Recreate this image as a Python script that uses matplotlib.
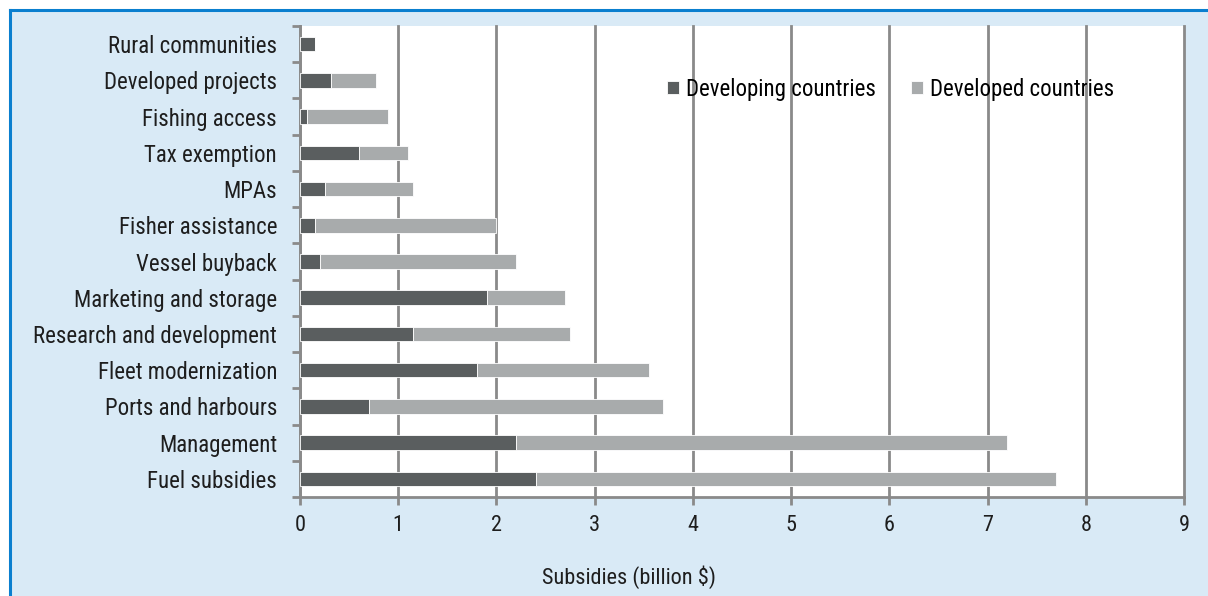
import matplotlib.pyplot as plt
from matplotlib.patches import Rectangle
from matplotlib.lines import Line2D

categories = ["Fuel subsidies", "Management", "Ports and harbours", "Fleet modernization",
              "Research and development", "Marketing and storage", "Vessel buyback",
              "Fisher assistance", "MPAs", "Tax exemption", "Fishing access",
              "Developed projects", "Rural communities"]
developing = [2.4, 2.2, 0.7, 1.8, 1.15, 1.9, 0.2, 0.15, 0.25, 0.6, 0.07, 0.32, 0.15]
totals = [7.7, 7.2, 3.7, 3.55, 2.75, 2.7, 2.2, 2.0, 1.15, 1.1, 0.9, 0.77, 0.15]
developed = [t - d for t, d in zip(totals, developing)]
xticks = list(range(0, 10))

DARK = "#5a5e5f"
LIGHT = "#a8abac"
BG = "#d9eaf6"
GRID = "#8a8a8a"
TEXT = "#1e1e1e"
FONT = ["Roboto Condensed", "Liberation Sans Narrow", "Liberation Sans", "DejaVu Sans"]
plt.rcParams["font.family"] = FONT

W, H = 1208, 596
fig = plt.figure(figsize=(W / 100, H / 100), dpi=100)
fig.patch.set_facecolor("white")

# light blue panel with a blue frame on top and left
fig.patches.append(Rectangle((10 / W, 0), 1, 1 - 10 / H, transform=fig.transFigure,
                             facecolor=BG, edgecolor="none", zorder=-10))
fig.lines.append(Line2D([10 / W, 1], [1 - 10 / H, 1 - 10 / H], transform=fig.transFigure,
                        color="#0a7fcf", lw=2.2, zorder=-5))
fig.lines.append(Line2D([10 / W, 10 / W], [0, 1 - 10 / H], transform=fig.transFigure,
                        color="#0a7fcf", lw=2.2, zorder=-5))

ax = fig.add_axes([300 / W, 99 / H, 884 / W, 471 / H])
ax.set_zorder(2)
ax.set_facecolor("white")

y = list(range(len(categories)))
ax.barh(y, developing, height=0.4, color=DARK, edgecolor="white", linewidth=0.6,
        label="Developing countries", zorder=3)
ax.barh(y, developed, left=developing, height=0.4, color=LIGHT, edgecolor="white",
        linewidth=0.6, label="Developed countries", zorder=3)

ax.set_xlim(0, 9)
ax.set_ylim(-0.5, len(categories) - 0.5)
ax.set_xticks(xticks)
ax.set_xticklabels([str(t) for t in xticks], fontsize=16, color=TEXT)
ax.set_yticks(y)
ax.set_yticklabels(categories, fontsize=16.5, color=TEXT)
ax.tick_params(axis="y", length=0, pad=16.5)
ax.tick_params(axis="x", length=6, width=2, color=GRID, pad=7)

# category boundary ticks on the y axis
ax.set_yticks([i - 0.5 for i in range(len(categories) + 1)], minor=True)
ax.tick_params(axis="y", which="minor", length=6, width=2, color=GRID)

ax.grid(axis="x", color=GRID, lw=2, zorder=1, clip_on=False)
for side in ["top", "right"]:
    ax.spines[side].set_visible(False)
for side in ["left", "bottom"]:
    ax.spines[side].set_color(GRID)
    ax.spines[side].set_linewidth(2)

ax.legend(loc="center left", bbox_to_anchor=(0.415, 0.866), ncol=2, frameon=False,
          fontsize=16.5, borderaxespad=0, borderpad=0,
          handlelength=0.55, handleheight=0.55, handletextpad=0.3,
          columnspacing=1.5)

fig.text(629 / W, 1 - 577 / H, "Subsidies (billion $)", ha="center", va="center",
         fontsize=16, color=TEXT)

fig.savefig("out.png", dpi=100)
